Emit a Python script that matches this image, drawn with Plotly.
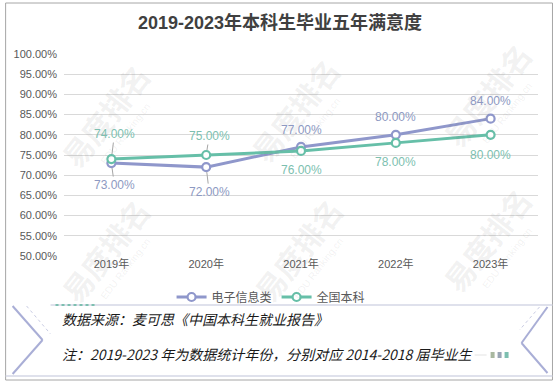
import plotly.graph_objects as go

categories = ["2019年", "2020年", "2021年", "2022年", "2023年"]
series_names = ["电子信息类", "全国本科"]
dianzi = [0.73, 0.72, 0.77, 0.80, 0.84]
quanguo = [0.74, 0.75, 0.76, 0.78, 0.80]
y_ticks = [0.50, 0.55, 0.60, 0.65, 0.70, 0.75, 0.80, 0.85, 0.90, 0.95, 1.00]

title_text = "2019-2023年本科生毕业五年满意度"
source_text = "数据来源：麦可思《中国本科生就业报告》"
note_text = "注：2019-2023 年为数据统计年份，分别对应 2014-2018 届毕业生"
watermark_text = "易度排名"
watermark_sub = "EDU Ranking.cn"

C_PURPLE = "#8f97cb"
C_TEAL = "#66bfa8"
L_PURPLE = "#8d99c2"
L_TEAL = "#7dbfb0"

W, H = 558, 383
L, R, T, B = 63.5, 19.5, 54, 127
PW, PH = W - L - R, H - T - B


def px(x):
    return (x - L) / PW


def py(y):
    return (H - B - y) / PH


fig = go.Figure()
fig.add_trace(go.Scatter(
    x=categories, y=dianzi, name=series_names[0], mode="lines+markers",
    line=dict(color=C_PURPLE, width=3),
    marker=dict(symbol="circle", size=8, color="white", line=dict(color=C_PURPLE, width=2.2)),
))
fig.add_trace(go.Scatter(
    x=categories, y=quanguo, name=series_names[1], mode="lines+markers",
    line=dict(color=C_TEAL, width=3),
    marker=dict(symbol="circle", size=8, color="white", line=dict(color=C_TEAL, width=2.2)),
))

# data labels: offset (px, negative = above) and whether a leader line is shown
dianzi_off = [(22, True), (25, True), (-17, False), (-18, False), (-18, False)]
quanguo_off = [(-25, True), (-19, True), (19, False), (19, False), (20, False)]

annotations = []

# faint watermark
for cx, cy in ((105, 115), (295, 110), (487, 95), (105, 250), (298, 250), (487, 240)):
    annotations.append(dict(
        x=px(cx), y=py(cy), xref="paper", yref="paper", text=f"<b>{watermark_text}</b>",
        showarrow=False, textangle=-52, xanchor="center", yanchor="middle",
        font=dict(family="Noto Sans CJK SC", size=30, color="rgba(120,120,120,0.10)"),
    ))
    annotations.append(dict(
        x=px(cx + 20), y=py(cy + 18), xref="paper", yref="paper", text=watermark_sub,
        showarrow=False, textangle=-52, xanchor="center", yanchor="middle",
        font=dict(family="Liberation Sans", size=10, color="rgba(120,120,120,0.10)"),
    ))

for vals, offs, col in ((dianzi, dianzi_off, L_PURPLE), (quanguo, quanguo_off, L_TEAL)):
    for c, v, (dy, leader) in zip(categories, vals, offs):
        if leader:
            annotations.append(dict(
                x=c, y=v, xref="x", yref="y", text=f"{v*100:.2f}%",
                showarrow=True, arrowhead=0, arrowwidth=1, arrowcolor="#a6a6a6",
                ax=3, ay=dy, standoff=5,
                font=dict(family="Liberation Sans, Arial", size=12, color=col),
            ))
        else:
            annotations.append(dict(
                x=c, y=v, xref="x", yref="y", text=f"{v*100:.2f}%",
                showarrow=False, yshift=-dy,
                font=dict(family="Liberation Sans, Arial", size=12, color=col),
            ))

annotations.append(dict(
    x=px(280), y=py(22), xref="paper", yref="paper", text=f"<b>{title_text}</b>",
    showarrow=False, xanchor="center", yanchor="middle",
    font=dict(family="Liberation Sans, Noto Sans CJK SC", size=18, color="#404040"),
))
annotations.append(dict(
    x=px(59), y=py(319), xref="paper", yref="paper", text=f"<i>{source_text}</i>",
    showarrow=False, xanchor="left", yanchor="middle",
    font=dict(family="Noto Sans CJK SC", size=14, color="#1a1a1a"),
))
annotations.append(dict(
    x=px(59), y=py(354), xref="paper", yref="paper", text=f"<i>{note_text}</i>",
    showarrow=False, xanchor="left", yanchor="middle",
    font=dict(family="Noto Sans CJK SC", size=14, color="#1a1a1a"),
))

shapes = []
def line(x0, y0, x1, y1, color, width=1, dash="solid"):
    shapes.append(dict(type="line", xref="paper", yref="paper",
                       x0=px(x0), y0=py(y0), x1=px(x1), y1=py(y1),
                       line=dict(color=color, width=width, dash=dash), layer="above"))

# outer frame
shapes.append(dict(type="rect", xref="paper", yref="paper",
                   x0=px(5), y0=py(3), x1=px(553), y1=py(380),
                   line=dict(color="#a6a6a6", width=1), layer="above"))
# footer box
line(50, 305, 553, 305, "#d5d7e6", 1.5)
line(5, 376, 553, 376, "#d5d7e6", 1.5)
line(55, 305, 95, 305, "#7dbfb0", 2, "dot")
# left chevron
line(12, 306, 42, 340, "#a9aed6", 2)
line(42, 340, 12, 374, "#a9aed6", 2)
line(26, 306, 50, 334, "#c9cce3", 1, "dot")
# right chevron
line(548, 307, 522, 343, "#a9aed6", 2)
line(522, 343, 548, 373, "#a9aed6", 2)
line(540, 307, 520, 330, "#c9cce3", 1, "dot")
line(475, 355, 487, 355, "#e3e3e3", 1)
for xx, cc in ((491, "#a9b8a0"), (498, "#9aa5b5"), (505, "#7dbfb0")):
    shapes.append(dict(type="rect", xref="paper", yref="paper",
                       x0=px(xx), y0=py(352), x1=px(xx + 4), y1=py(358),
                       fillcolor=cc, line=dict(width=0), layer="above"))

fig.update_layout(
    width=W, height=H,
    margin=dict(l=L, r=R, t=T, b=B, pad=0),
    paper_bgcolor="white", plot_bgcolor="white",
    showlegend=True,
    legend=dict(orientation="h", x=px(271), xanchor="center", y=py(297), yanchor="middle",
                font=dict(family="Noto Sans CJK SC", size=12, color="#595959"),
                itemwidth=30, tracegroupgap=0, bgcolor="rgba(0,0,0,0)"),
    xaxis=dict(showgrid=False, showline=False, zeroline=False, ticks="",
               tickfont=dict(family="Liberation Sans, Noto Sans CJK SC", size=11, color="#595959"),
               range=[-0.5, 4.5]),
    yaxis=dict(range=[0.5, 1.0], tickvals=y_ticks, tickformat=".2%",
               showgrid=True, gridcolor="#d9d9d9", gridwidth=1, zeroline=False,
               showline=False, ticks="", ticklabelstandoff=6,
               tickfont=dict(family="Liberation Sans, Arial", size=11, color="#595959")),
    annotations=annotations,
    shapes=shapes,
    font=dict(family="Liberation Sans, Noto Sans CJK SC"),
    hovermode=False,
)

fig.write_html("out.html", config={"displayModeBar": False},
               post_script="document.body.style.margin='0';document.body.style.overflow='hidden';")
